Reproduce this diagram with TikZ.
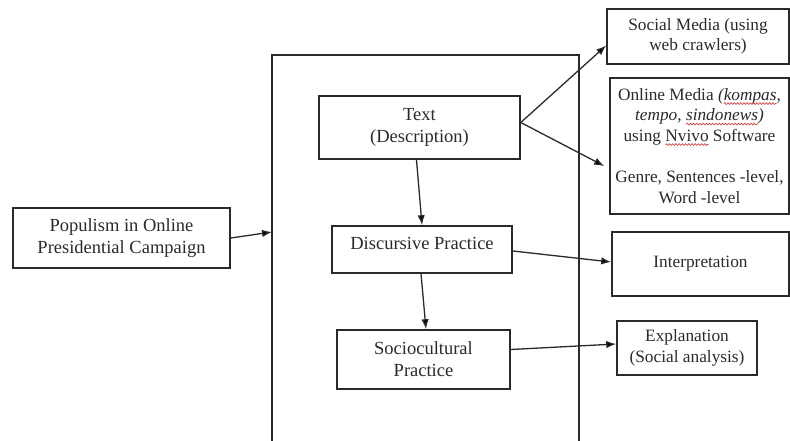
\documentclass[tikz,border=0pt]{standalone}
\usepackage{fontspec}
\setmainfont{Liberation Serif}
\usetikzlibrary{arrows.meta,decorations.pathmorphing}
\definecolor{ink}{HTML}{2A2A2A}
\definecolor{spell}{HTML}{D04848}
\newcommand\redwave[1]{\tikz[baseline=(w.base),x=1pt,y=1pt]{\node[inner sep=0pt,outer sep=0pt,text=ink,draw=none,minimum width=0pt,minimum height=0pt,anchor=base](w) at (0,0){#1};\draw[overlay,spell,line width=0.7pt,decorate,decoration={snake,amplitude=0.9pt,segment length=3.2pt}] ([yshift=-3.2pt]w.base west) -- ([yshift=-3.2pt]w.base east);}}
\tikzset{
  box/.style={draw=ink, line width=1.6pt, rectangle, inner sep=0pt, align=center, text=ink},
  bigtxt/.style={font=\fontsize{18.5}{22}\selectfont},
  smtxt/.style={font=\fontsize{17.3}{20.5}\selectfont},
  arr/.style={draw=ink, line width=1.3pt, -{Latex[length=10pt,width=7.5pt]}}
}
\begin{document}
\begin{tikzpicture}[x=1pt,y=-1pt]
\useasboundingbox (0,0) rectangle (790,441);
% big frame (open at bottom)
\draw[ink, line width=1.6pt] (272,441) -- (272,55) -- (579,55) -- (579,441);
\coordinate (fl) at (272,232);
% left
\node[box,bigtxt,minimum width=217pt,minimum height=60pt] (pop) at (121.5,238) {Populism in Online\\Presidential Campaign};
% inner boxes
\node[box,bigtxt,minimum width=201pt,minimum height=63pt] (txt) at (419.5,127.5) {Text\\(Description)};
\node[box,bigtxt,minimum width=180pt,minimum height=47pt,text height=10pt,text depth=11pt] (dp) at (422,249.5) {Discursive Practice};
\node[box,bigtxt,minimum width=173pt,minimum height=59pt] (sc) at (423.5,359.5) {Sociocultural\\Practice};
% right boxes
\node[box,smtxt,minimum width=182pt,minimum height=55pt] (sm) at (698,36.5) {Social Media (using\\web crawlers)};
\node[box,smtxt,minimum width=179pt,minimum height=136pt] (om) at (699.5,146) {Online Media \textit{(\redwave{kompas},}\\\textit{tempo, \redwave{sindonews})}\\using \redwave{Nvivo} Software\\[21pt]Genre, Sentences -level,\\Word -level};
\node[box,smtxt,minimum width=177pt,minimum height=64pt] (ip) at (700.5,264) {Interpretation};
\node[box,smtxt,minimum width=140pt,minimum height=54pt] (ex) at (687,348) {Explanation\\(Social analysis)};
% arrows
\draw[arr] (pop.east) -- (fl);
\draw[arr] ([yshift=5pt]txt.east) -- ([yshift=-9pt]sm.west);
\draw[arr] ([yshift=5pt]txt.east) -- ([xshift=-5pt,yshift=-20pt]om.west);
\draw[arr] ([xshift=-3pt]txt.south) -- (dp.north);
\draw[arr] ([xshift=-1pt]dp.south) -- ([xshift=2.5pt]sc.north);
\draw[arr] ([yshift=-1.5pt]dp.east) -- ([yshift=2pt]ip.west);
\draw[arr] ([yshift=10pt]sc.east) -- ([yshift=4pt]ex.west);
\end{tikzpicture}
\end{document}
